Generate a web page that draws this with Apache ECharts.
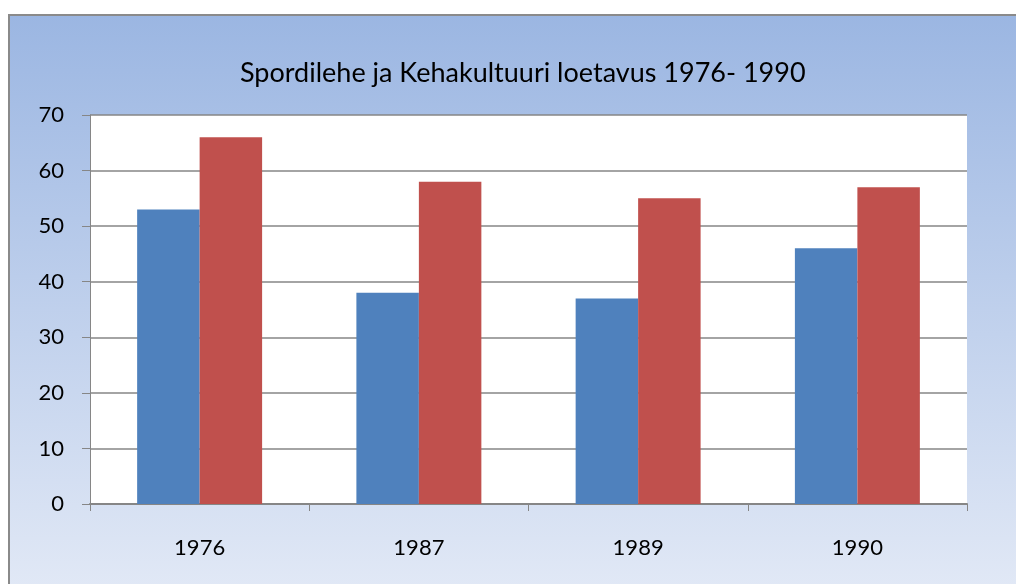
<!DOCTYPE html>
<html>
<head>
<meta charset="utf-8">
<script src="https://cdn.jsdelivr.net/npm/echarts@6/dist/echarts.min.js"></script>
<style>
  html, body { margin: 0; padding: 0; background: #fff; }
  #chart { width: 1016px; height: 584px; }
</style>
</head>
<body>
<div id="chart"></div>
<script>
// andmed
var years = ['1976', '1987', '1989', '1990'];
var blueValues = [53, 38, 37, 46];
var redValues = [66, 58, 55, 57];
var yTicks = { min: 0, max: 70, interval: 10 };

var chart = echarts.init(document.getElementById('chart'));
var font = 'Lato, Liberation Sans, sans-serif';

chart.setOption({
  animation: false,
  backgroundColor: '#fff',
  graphic: [
    {
      type: 'rect',
      z: -10,
      shape: { x: 9, y: 15, width: 1020, height: 580 },
      style: {
        fill: new echarts.graphic.LinearGradient(0, 0, 0, 1, [
          { offset: 0, color: '#9bb6e2' },
          { offset: 1, color: '#e2e9f6' }
        ]),
        stroke: '#8a8a8a',
        lineWidth: 2
      }
    }
  ],
  title: {
    text: 'Spordilehe ja Kehakultuuri loetavus 1976- 1990',
    left: 235,
    top: 55,
    textStyle: { fontFamily: font, fontSize: 27, fontWeight: 'normal', color: '#000' }
  },
  grid: {
    left: 90, right: 49, top: 115, bottom: 80,
    show: true, backgroundColor: '#fff', borderWidth: 0,
    containLabel: false
  },
  xAxis: {
    type: 'category',
    data: years,
    axisLine: { lineStyle: { color: '#868686', width: 2 } },
    axisTick: { show: true, length: 7, lineStyle: { color: '#868686' } },
    axisLabel: { fontFamily: font, fontSize: 22, color: '#000', margin: 33 }
  },
  yAxis: {
    type: 'value',
    min: yTicks.min, max: yTicks.max, interval: yTicks.interval,
    axisLine: { show: true, lineStyle: { color: '#868686', width: 1 } },
    axisTick: { show: true, length: 8, lineStyle: { color: '#868686' } },
    splitLine: { lineStyle: { color: '#868686', width: 1.5 } },
    axisLabel: { fontFamily: font, fontSize: 22, color: '#000', margin: 26 }
  },
  series: [
    {
      type: 'bar', data: blueValues, barWidth: '28.5%', barGap: '0%',
      itemStyle: { color: '#4f81bd' }
    },
    {
      type: 'bar', data: redValues, barWidth: '28.5%', barGap: '0%',
      itemStyle: { color: '#c0504d' }
    }
  ]
});
</script>
</body>
</html>
